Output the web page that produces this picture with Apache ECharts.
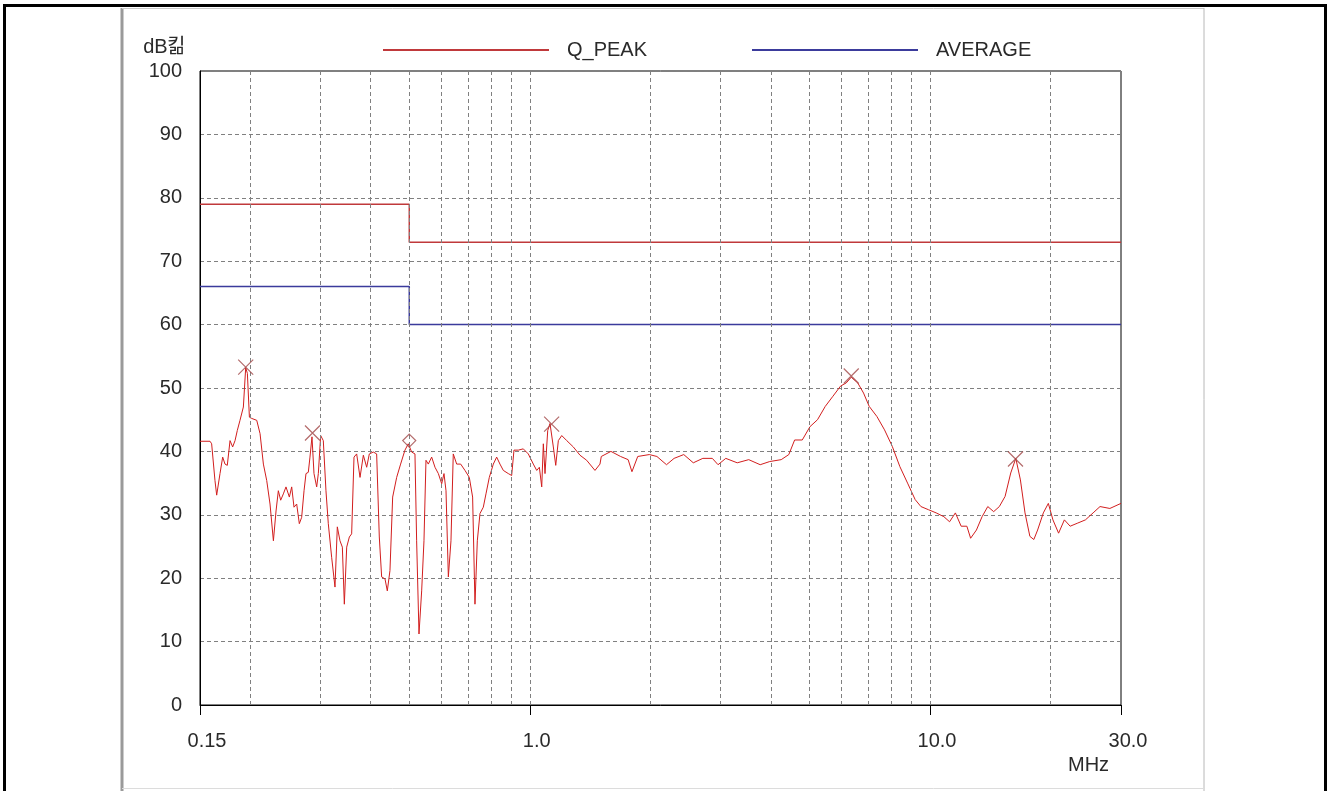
<!DOCTYPE html>
<html><head><meta charset="utf-8">
<script src="https://cdn.jsdelivr.net/npm/echarts@6/dist/echarts.min.js"></script>
<style>html,body{margin:0;padding:0;background:#fff}#c{width:1332px;height:791px}</style>
</head><body><div id="c"></div>
<script>
// Measured trace (frequency in MHz, level in dB)
const freqMHz = [
0.150,0.1589,0.1604,0.1635,0.1651,0.1683,0.1709,0.1732,0.1755,0.1783,0.1810,0.1835,0.1859,0.1888,0.1925,0.1951,0.1970,0.1993,0.2020,0.2079,
0.2119,0.2160,0.2202,0.2244,0.2288,0.2323,0.2354,0.2386,0.2423,0.2460,0.2508,0.2542,0.2576,0.2616,0.2656,0.2692,0.2729,0.2760,0.2797,0.2824,
0.2857,0.2890,0.2935,0.2963,0.3003,0.3049,0.3096,0.3138,0.3199,0.3261,0.3305,0.3356,0.3402,0.3441,0.3488,0.3542,0.3589,0.3638,0.3694,0.3766,
0.3839,0.3913,0.3973,0.4065,0.4144,0.4208,0.4265,0.4348,0.4406,0.4474,0.4544,0.4650,0.4757,0.4877,0.4971,0.5069,0.5166,0.5216,0.5287,0.5369,
0.5441,0.5504,0.5578,0.5687,0.5797,0.5910,0.6025,0.6105,0.6176,0.6260,0.6355,0.6440,0.6567,0.6720,0.6888,0.7062,0.7198,0.7296,0.7395,0.7509,
0.7654,0.7773,0.7923,0.8108,0.8266,0.8424,0.8588,0.8839,0.9011,0.9131,0.9361,0.9634,0.9916,1.0206,1.0407,1.0567,1.0712,1.0811,1.0916,1.1088,
1.1234,1.1452,1.1611,1.1786,1.2019,1.2370,1.2848,1.3350,1.3871,1.4551,1.4976,
1.509,1.595,1.686,1.761,1.800,1.861,1.989,2.078,2.196,2.294,2.425,2.562,2.706,2.858,2.954,3.088,3.298,3.524,3.764,3.977,
4.248,4.438,4.589,4.795,5.012,5.235,5.473,5.720,5.976,6.175,6.355,6.598,6.822,7.048,7.367,7.697,8.047,8.407,8.787,9.180,
9.489,9.913,10.36,10.83,11.19,11.57,11.96,12.36,12.63,13.06,13.49,13.94,14.42,14.90,15.40,15.91,16.38,16.82,17.27,17.76,
18.17,18.57,19.19,19.75,20.28,20.95,21.66,22.39,23.40,24.45,25.55,26.59,28.14,30.0
];
const levelDb = [
41.6,41.6,41.2,35.4,33.1,36.5,39.1,38.0,37.8,41.7,40.7,41.7,43.3,44.9,47.0,53.2,52.3,45.4,45.2,44.9,
42.8,38.0,35.4,31.7,25.9,30.6,33.8,32.3,33.3,34.4,32.8,34.4,31.2,31.7,28.6,29.6,33.8,36.5,36.7,39.1,
42.3,36.5,34.4,36.5,42.5,41.7,33.8,28.6,23.3,18.6,28.1,25.9,24.9,15.9,24.9,26.5,27.0,39.1,39.6,35.9,
39.4,37.5,39.6,39.9,39.6,26.5,20.2,19.9,18.0,21.2,32.8,35.9,38.0,40.2,41.2,39.9,39.6,25.9,11.2,18.0,
25.9,38.6,38.0,39.1,37.5,36.5,34.9,36.5,33.8,20.2,25.9,39.6,38.0,38.0,37.0,35.9,32.8,15.9,25.9,30.2,
31.2,33.3,35.9,38.0,39.1,38.0,37.0,36.5,36.2,40.2,40.2,40.4,39.6,38.0,37.0,37.5,34.4,41.2,36.5,43.3,
44.4,40.7,37.8,41.7,42.5,41.7,40.7,39.4,38.6,37.0,38.0,
39.2,40.0,39.2,38.7,36.8,39.2,39.5,39.2,37.9,38.9,39.5,38.2,38.9,38.9,37.9,38.9,38.2,38.7,37.9,38.4,
38.7,39.5,41.8,41.8,43.9,45.0,47.1,48.7,50.3,50.8,51.7,50.8,49.2,47.1,45.5,43.4,40.8,37.6,35.0,32.4,
31.3,30.8,30.3,29.7,28.9,30.3,28.2,28.2,26.3,27.6,29.7,31.3,30.5,31.3,32.9,36.6,38.9,35.5,30.3,26.6,
26.1,27.6,30.3,31.8,29.2,27.1,29.2,28.2,28.7,29.2,30.3,31.3,31.0,31.8
];
// Limit lines
const qpLimitFreq = [0.15, 0.5, 0.5, 30];
const qpLimitDb = [79, 79, 73, 73];
const avLimitFreq = [0.15, 0.5, 0.5, 30];
const avLimitDb = [66, 66, 60, 60];
// Peak markers
const peakFreq = [0.1951, 0.2865, 1.134, 6.355, 16.35];
const peakDb = [53.3, 42.9, 44.3, 51.9, 38.8];
const diamondFreq = [0.4999];
const diamondDb = [41.7];
// Axis
const xGridLines = [0.2,0.3,0.4,0.5,0.6,0.7,0.8,0.9,1,2,3,4,5,6,7,8,9,10,20];
const xTickValues = [0.15, 1, 10, 30];
const xTickLabels = ['0.15', '1.0', '10.0', '30.0'];

const zip = (a, b) => a.map((v, i) => [v, b[i]]);
const FONT = '"Liberation Sans", Arial, "Noto Sans CJK KR", sans-serif';
const TXT = '#2a2a2a';

const chart = echarts.init(document.getElementById('c'), null, {renderer: 'canvas'});
chart.setOption({
  animation: false,
  backgroundColor: '#fff',
  textStyle: {fontFamily: FONT},
  graphic: [
    {type: 'rect', silent: true, z: -10, shape: {x: 4.5, y: 5.5, width: 1321, height: 820},
     style: {fill: '#fff', stroke: '#000', lineWidth: 3}},
    {type: 'line', silent: true, z: -9, shape: {x1: 122, y1: 8, x2: 122, y2: 791}, style: {stroke: '#9a9a9a', lineWidth: 3}},
    {type: 'line', silent: true, z: -9, shape: {x1: 122, y1: 8.5, x2: 1204, y2: 8.5}, style: {stroke: '#c8c8c8', lineWidth: 1}},
    {type: 'line', silent: true, z: -9, shape: {x1: 1204, y1: 8, x2: 1204, y2: 791}, style: {stroke: '#b8b8b8', lineWidth: 1}},
    {type: 'line', silent: true, z: -9, shape: {x1: 122, y1: 788.5, x2: 1204, y2: 788.5}, style: {stroke: '#dcdcdc', lineWidth: 1}}
  ],
  legend: [
    {data: ['Q_PEAK'], left: 383, top: 40, padding: 0, icon: 'rect', itemWidth: 166, itemHeight: 2, itemGap: 0,
     textStyle: {fontFamily: FONT, fontSize: 20, color: TXT, padding: [0, 0, 0, 13]}},
    {data: ['AVERAGE'], left: 752, top: 40, padding: 0, icon: 'rect', itemWidth: 166, itemHeight: 2, itemGap: 0,
     textStyle: {fontFamily: FONT, fontSize: 20, color: TXT, padding: [0, 0, 0, 13]}}
  ],
  grid: {left: 200, top: 71, right: 211, bottom: 86, show: true, borderColor: '#000', borderWidth: 1, backgroundColor: '#fff', containLabel: false},
  xAxis: {
    type: 'log', logBase: 10, min: 0.15, max: 30,
    name: 'MHz', nameLocation: 'end', nameGap: -53,
    nameTextStyle: {fontFamily: FONT, fontSize: 20, color: TXT, align: 'left', verticalAlign: 'top', padding: [50, 0, 0, 0]},
    axisLine: {show: true, lineStyle: {color: '#000', width: 1}},
    axisTick: {show: true, inside: false, length: 10, lineStyle: {color: '#000'}},
    axisLabel: {
      show: true, margin: 26, fontSize: 20, color: TXT, padding: [0, 0, 0, 14],
      showMinLabel: true, showMaxLabel: true,
      formatter: function (v) {
        for (let i = 0; i < xTickValues.length; i++) {
          if (Math.abs(v - xTickValues[i]) / xTickValues[i] < 1e-3) return xTickLabels[i];
        }
        return '';
      }
    },
    splitLine: {show: false},
    minorTick: {show: false}
  },
  yAxis: {
    type: 'value', min: 0, max: 100, interval: 10,
    name: 'dB킮', nameLocation: 'end', nameGap: 14,
    nameTextStyle: {fontFamily: FONT, fontSize: 20, color: TXT, align: 'right', padding: [0, 14, 0, 0]},
    axisLine: {show: true, lineStyle: {color: '#000', width: 1}},
    axisTick: {show: false},
    axisLabel: {margin: 18, fontSize: 20, color: TXT},
    splitLine: {show: true, lineStyle: {color: '#808080', type: [4, 3], width: 1}}
  },
  series: [
    {name: 'grid', type: 'line', data: [], z: 1, silent: true,
     markLine: {silent: true, symbol: 'none', animation: false, label: {show: false},
       lineStyle: {color: '#808080', type: [4, 3], width: 1},
       data: xGridLines.map(v => ({xAxis: v}))}},
    {name: 'Q_PEAK', type: 'line', data: zip(qpLimitFreq, qpLimitDb), showSymbol: false, z: 3,
     lineStyle: {color: '#c0393b', width: 1.5}, itemStyle: {color: '#c0393b'}},
    {name: 'AVERAGE', type: 'line', data: zip(avLimitFreq, avLimitDb), showSymbol: false, z: 3,
     lineStyle: {color: '#3b3b9c', width: 1.5}, itemStyle: {color: '#3b3b9c'}},
    {name: 'trace', type: 'line', data: zip(freqMHz, levelDb), showSymbol: false, z: 4,
     lineStyle: {color: '#d21e1e', width: 1}, itemStyle: {color: '#d21e1e'}},
    {name: 'peaks', type: 'scatter', data: zip(peakFreq, peakDb), z: 5,
     symbol: 'path://M0,0L10,10M10,0L0,10', symbolSize: 15,
     itemStyle: {color: 'rgba(0,0,0,0)', borderColor: '#a04646', borderWidth: 1.2}},
    {name: 'qpeak', type: 'scatter', data: zip(diamondFreq, diamondDb), z: 5,
     symbol: 'diamond', symbolSize: 13,
     itemStyle: {color: 'rgba(0,0,0,0)', borderColor: '#a04646', borderWidth: 1.2}}
  ]
});
</script></body></html>
